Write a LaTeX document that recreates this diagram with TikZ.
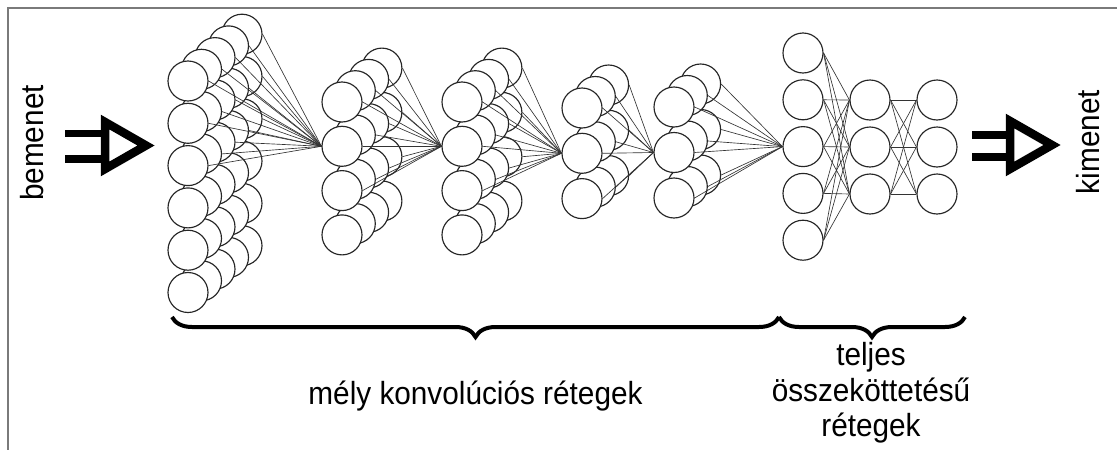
\documentclass[tikz,border=0pt]{standalone}
\usepackage{fontspec}
\setmainfont{Liberation Sans}[FakeStretch=0.93]
\usetikzlibrary{decorations.pathreplacing}

\tikzset{
  neuron/.style={circle, draw=black!85, line width=1.15pt, fill=white,
                 minimum size=40pt, inner sep=0pt},
  wire/.style={draw=black!80, line width=0.65pt},
  frameline/.style={draw=black!52, line width=2.6pt, line join=miter},
  plugbar/.style={draw=black, line width=7.5pt},
  plughead/.style={draw=black, line width=8.5pt, line join=miter},
  curly/.style={decorate, decoration={brace, amplitude=20pt, mirror},
                line width=4pt},
  lbl/.style={font=\fontsize{32}{36}\selectfont, inner sep=0pt},
}

% #1 name, #2 x of front column, #3 y of first row, #4 row step,
% #5 last row index, #6 last column index, #7/#8 shift per column
\newcommand{\stacklayer}[8]{%
  \foreach \c in {#6,...,0}{%
    \foreach \r in {0,...,#5}{%
      \node[neuron] (#1-\c-\r) at ({#2+\c*#7},{#3+\r*#4+\c*#8}) {};
    }%
  }%
}

\begin{document}
\begin{tikzpicture}[x=1pt,y=-1pt]
\useasboundingbox (0,0) rectangle (1117,450);

% frame
\draw[frameline] (1120,8) -- (8,8) -- (8,453);

% convolutional stacks
\stacklayer{L1}{188}{81}{42.3}{5}{4}{13.5}{-11.7}
\stacklayer{L2}{342}{102}{44.3}{3}{3}{13.3}{-11.3}
\stacklayer{L3}{462}{102}{44.3}{3}{3}{13.3}{-11.3}
\stacklayer{L4}{582}{108}{45.3}{2}{2}{13.3}{-11.5}
\stacklayer{L5}{674}{107}{45.5}{2}{2}{13.3}{-11.5}

% fully connected layers
\stacklayer{L6}{803}{53}{46.8}{4}{0}{0}{0}
\stacklayer{L7}{870}{100}{47}{2}{0}{0}{0}
\stacklayer{L8}{937}{100}{47}{2}{0}{0}{0}

% receptive fields
\foreach \c in {0,...,4}{\foreach \r in {0,1,2}{\draw[wire] (L1-\c-\r.east) -- (L2-0-1.west);}}
\foreach \c in {0,...,3}{\foreach \r in {0,1,2}{\draw[wire] (L2-\c-\r.east) -- (L3-0-1.west);}}
\foreach \c in {0,...,3}{\foreach \r in {0,1,2}{\draw[wire] (L3-\c-\r.east) -- (L4-0-1.west);}}
\foreach \c in {0,...,2}{\foreach \r in {0,1,2}{\draw[wire] (L4-\c-\r.east) -- (L5-0-1.west);}}
\foreach \c in {0,...,2}{\foreach \r in {0,1,2}{\draw[wire] (L5-\c-\r.east) -- (L6-0-2.west);}}

% dense connections
\foreach \a in {0,...,4}{\foreach \b in {0,1,2}{\draw[wire] (L6-0-\a.east) -- (L7-0-\b.west);}}
\foreach \a in {0,1,2}{\foreach \b in {0,1,2}{\draw[wire] (L7-0-\a.east) -- (L8-0-\b.west);}}

% input plug
\draw[plugbar] (65,133.5) -- (105,133.5);
\draw[plugbar] (65,159) -- (105,159);
\draw[plughead] (105,122) -- (146,145.5) -- (105,169) -- cycle;

% output plug
\draw[plugbar] (972,135) -- (1010,135);
\draw[plugbar] (972,157) -- (1010,157);
\draw[plughead] (1010,121) -- (1052,145) -- (1010,169) -- cycle;

% labels
\node[lbl, rotate=90] (inlbl) at (32.5,143) {bemenet};
\node[lbl, rotate=90] (outlbl) at (1088.5,142) {kimenet};

% braces
\draw[curly] (172,317) -- (779,317);
\draw[curly] (779,317) -- (965,317);

\node[lbl, anchor=base] (convlbl) at (475.5,404) {mély konvolúciós rétegek};
\node[lbl, anchor=base] (fc1) at (871,365) {teljes};
\node[lbl, anchor=base] (fc2) at (871,401.5) {összeköttetésű};
\node[lbl, anchor=base] (fc3) at (871,436.5) {rétegek};
\end{tikzpicture}
\end{document}
